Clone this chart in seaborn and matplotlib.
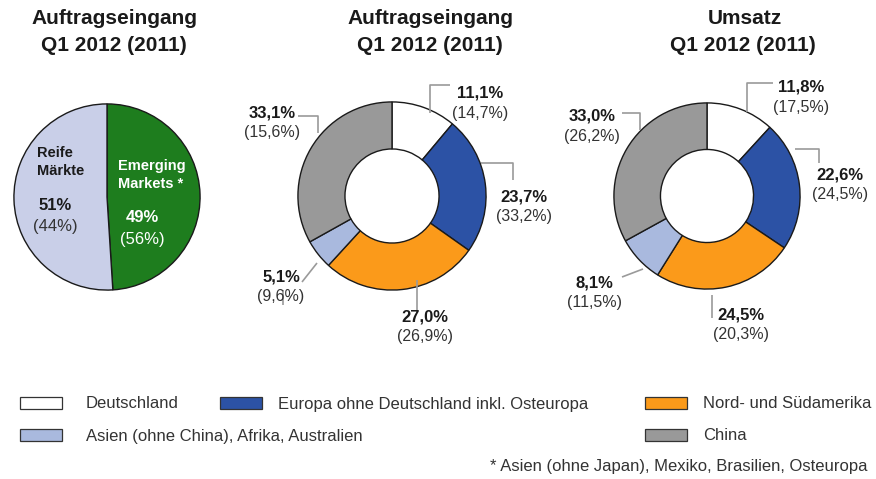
import matplotlib
matplotlib.use('Agg')
import matplotlib.pyplot as plt
from matplotlib.patches import Rectangle
import seaborn as sns

# data
regions = ['Deutschland', 'Europa ohne Deutschland inkl. Osteuropa', 'Nord- und Südamerika',
           'Asien (ohne China), Afrika, Australien', 'China']
region_colors = ['#ffffff', '#2c52a5', '#fb9a1a', '#a9b9de', '#999999']
orders_2012 = [11.1, 23.7, 27.0, 5.1, 33.1]
orders_2011 = [14.7, 33.2, 26.9, 9.6, 15.6]
sales_2012 = [11.8, 22.6, 24.5, 8.1, 33.0]
sales_2011 = [17.5, 24.5, 20.3, 11.5, 26.2]

markets = ['Emerging\nMarkets *', 'Reife\nMärkte']
market_colors = ['#1e7d1e', '#c9cfe8']
markets_2012 = [49, 51]
markets_2011 = [56, 44]

W, H = 876, 479
sns.set_theme(style='white')
plt.rcParams['font.family'] = ['Liberation Sans', 'DejaVu Sans']

fig = plt.figure(figsize=(W / 100, H / 100), dpi=100)
fig.patch.set_facecolor('white')


def pie_axes(cx, cy, r):
    ax = fig.add_axes([(cx - r) / W, (H - cy - r) / H, 2 * r / W, 2 * r / H])
    return ax


def fix_limits(ax):
    ax.set_xlim(-1.01, 1.01)
    ax.set_ylim(-1.01, 1.01)
    ax.axis('off')


def pct(v, dec=1):
    return f'{v:.{dec}f}%'.replace('.', ',')


edge = dict(edgecolor='#1a1a1a', linewidth=1.0)

# Pie 1: emerging vs mature markets
ax1 = pie_axes(107, 197, 94)
ax1.pie(markets_2012, colors=market_colors, startangle=90, counterclock=False,
        radius=1, wedgeprops=edge)
fix_limits(ax1)

# Donuts
ax2 = pie_axes(392, 196, 95)
ax2.pie(orders_2012, colors=region_colors, startangle=90, counterclock=False,
        radius=1, wedgeprops=dict(width=0.5, **edge))
fix_limits(ax2)
ax3 = pie_axes(707, 196, 94)
ax3.pie(sales_2012, colors=region_colors, startangle=90, counterclock=False,
        radius=1, wedgeprops=dict(width=0.5, **edge))
fix_limits(ax3)

# overlay in pixel coords for text, leaders, legend
ov = fig.add_axes([0, 0, 1, 1], zorder=5)
ov.set_xlim(0, W)
ov.set_ylim(H, 0)
ov.axis('off')
ov.patch.set_alpha(0)

# titles
title_kw = dict(ha='center', va='center', fontsize=15, fontweight='bold', color='#1a1a1a')
for x, t in [(114, 'Auftragseingang'), (430, 'Auftragseingang'), (745, 'Umsatz')]:
    ov.text(x, 18, t, **title_kw)
for x in (114, 430, 743):
    ov.text(x, 45, 'Q1 2012 (2011)', **title_kw)

# pie 1 labels
ov.text(37, 162, markets[1], ha='left', va='center', fontsize=10.5, fontweight='bold',
        color='#1a1a1a', linespacing=1.3)
ov.text(55, 205, pct(markets_2012[1], 0), ha='center', va='center', fontsize=12,
        fontweight='bold', color='#1a1a1a')
ov.text(55, 226, f'({pct(markets_2011[1], 0)})', ha='center', va='center', fontsize=12,
        color='#333333')
ov.text(118, 175, markets[0], ha='left', va='center', fontsize=10.5, fontweight='bold',
        color='white', linespacing=1.3)
ov.text(142, 218, pct(markets_2012[0], 0), ha='center', va='center', fontsize=12,
        fontweight='bold', color='white')
ov.text(142, 239, f'({pct(markets_2011[0], 0)})', ha='center', va='center', fontsize=12,
        color='white')

# donut labels and leader lines
lab2 = [(480, 93), (524, 197), (425, 317), (281, 277), (272, 113)]
lab3 = [(801, 87), (840, 175), (741, 315), (594, 283), (592, 116)]
lead2 = [[(450, 85), (430, 85), (430, 113)],
         [(481, 163), (513, 163), (513, 180)],
         [(417, 280), (417, 313)],
         [(317, 263), (302, 282)],
         [(298, 116), (318, 116), (318, 133)],
         [(283, 290), (283, 305)]]
lead3 = [[(773, 83), (747, 83), (747, 112)],
         [(795, 149), (819, 149), (819, 163)],
         [(712, 295), (712, 318)],
         [(643, 269), (622, 277)],
         [(622, 113), (640, 113), (640, 130)]]

for labs, cur, prev, leads in [(lab2, orders_2012, orders_2011, lead2),
                               (lab3, sales_2012, sales_2011, lead3)]:
    for (x, y), a, b in zip(labs, cur, prev):
        ov.text(x, y, pct(a), ha='center', va='center', fontsize=12,
                fontweight='bold', color='#1a1a1a')
        ov.text(x, y + 20, f'({pct(b)})', ha='center', va='center', fontsize=11.5,
                color='#333333')
    for pts in leads:
        ov.plot([p[0] for p in pts], [p[1] for p in pts], color='#9a9a9a', lw=1.2,
                solid_capstyle='butt')

# legend
leg_pos = [(20, 403), (220, 403), (645, 403), (20, 435), (645, 435)]
for (x, y), name, c in zip(leg_pos, regions, region_colors):
    ov.add_patch(Rectangle((x, y - 6), 42, 12, facecolor=c, edgecolor='#333333', lw=0.9))
    tx = x + 66 if x < 200 else x + 58
    ov.text(tx, y + 1, name, ha='left', va='center', fontsize=12, color='#333333')

ov.text(868, 467, '* Asien (ohne Japan), Mexiko, Brasilien, Osteuropa', ha='right',
        va='center', fontsize=12, color='#333333')

fig.savefig('out.png', dpi=100, facecolor='white')
